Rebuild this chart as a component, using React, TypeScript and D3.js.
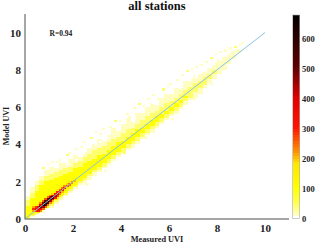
import * as d3 from "d3"
import { useEffect, useRef } from "react"

const width = 320
const height = 245
const serif = "'Liberation Serif', serif"

// left edges of the measured UVI columns, one bin is 0.2 wide
const measuredBins = d3.range(0, 45).map(i => i / 5)

// edges of each density band per column (model UVI)
const paleLow = [0,.1,.2,.3,.5,.6,.8,1,1.2,1.4,1.6,1.8,1.9,2.1,2.3,2.5,2.7,2.9,3.1,3.3,3.5,3.7,3.8,4,4.3,4.5,4.6,4.9,5.1,5.3,5.5,5.6,5.9,6.1,6.4,6.5,6.7,7,7.3,7.5,7.8,8,8.3,8.6,8.9]
const paleHigh = [1.2,1.7,2,2.3,2.6,2.8,2.7,3,3,3.2,3.4,3.3,3.6,3.8,4,4.3,4.2,4.5,4.9,4.7,5.1,5.4,5.2,5.7,5.7,6,6.2,6.1,6.5,6.7,6.7,7,7,7.4,7.5,7.7,7.8,7.9,8.1,8.4,8.6,8.7,8.9,9,9.1]
const midLow = [0,.15,.25,.4,.55,.7,.9,1.1,1.3,1.5,1.7,1.9,2.1,2.3,2.5,2.6,2.8,3,3.2,3.4,3.6,3.8,4,4.2,4.4,4.6,4.8,5,5.2,5.4,5.6,5.8,6,6.3,6.5,6.8,7,7.2,7.5,7.8,0,0,0,0,0]
const midHigh = [1,1.4,1.8,2.1,2.3,2.4,2.5,2.6,2.7,2.8,3,3.1,3.3,3.5,3.7,3.8,3.9,4.1,4.3,4.4,4.6,4.8,4.9,5.1,5.3,5.5,5.7,5.8,6,6.2,6.3,6.5,6.7,6.9,7.1,7.3,7.4,7.6,7.8,8,0,0,0,0,0]
const fullLow = [0,.2,.3,.45,.6,.8,1,1.2,1.4,1.6,1.8,2,2.2,2.4,2.6,2.8,3,3.2,3.4,3.6,3.8,4,4.2,4.4,4.6,4.8,5,5.2,5.4,5.6,5.8,6,6.2,6.5,6.8,7,0,0,0,0,0,0,0,0,0]
const fullHigh = [.7,1.1,1.5,1.8,2,2.1,2.2,2.3,2.4,2.5,2.7,2.8,3,3.1,3.2,3.4,3.5,3.7,3.9,4.1,4.2,4.4,4.6,4.8,4.9,5.1,5.3,5.5,5.6,5.8,6,6.2,6.4,6.6,6.8,7,0,0,0,0,0,0,0,0,0]

// hot ridge, one column per 0.1 of measured UVI, five cells around the centre
const ridgeX = [.3,.4,.5,.6,.7,.8,.9,1,1.1,1.2,1.3,1.4,1.5,1.6,1.7,1.8,1.9,2]
const ridgeY = [.5,.5,.5,.6,.7,.8,.9,1,1.1,1.2,1.3,1.4,1.5,1.6,1.7,1.8,1.9,2]
const ridgeBelow2 = [110,130,180,220,240,250,240,220,200,170,150,130,120,110,100,100,100,100]
const ridgeBelow1 = [210,280,320,380,450,500,500,440,360,300,270,230,200,180,150,130,110,100]
const ridgeCentre = [280,320,400,540,650,680,670,630,540,450,400,360,330,300,270,240,220,200]
const ridgeAbove1 = [210,280,330,390,460,500,490,420,360,320,290,260,240,220,190,160,140,110]
const ridgeAbove2 = [110,130,180,230,250,260,240,220,190,170,150,130,120,110,100,100,100,100]

// stray low-count cells above the envelope
const strayX = [.7,.9,1.1,1.3,1.4,1.7,1.8,2.1,2.3,2.4,2.7,2.9,3.1,3.2,3.5,3.7,3.9,4.2,4.3,4.5,4.7,4.9,5.1,5.3,5.5,5.7,5.9,6,6.3,6.5,6.7,6.9,7.1,7.3,7.5,7.7,7.9,8.1,8.3,8.5,8.7,8.9,9,2.5,3.3,4.1,5,6.1,7,7.7]
const strayY = [2.7,2.9,3,3,3.1,3.4,3.5,3.7,3.8,4.1,4.3,4.6,4.5,4.8,4.9,5.2,5.2,5.6,5.4,5.9,6.1,6,6.4,6.6,6.4,6.9,7.1,7.2,7.4,7.7,7.9,8,8.1,8.2,8.4,8.6,8.8,8.9,9,9.1,9.2,9.3,9.4,1.8,2.5,3.5,4.3,5.3,6.4,7.2]

// holes inside the pale band
const holeX = [1.7,2.1,2.4,2.9,3.1,3.4,3.8,4.1,4.5,4.8,5.3,5.6,6.1,6.4,6.8,7.1,7.4,7.8,8.1,8.4]
const holeY = [2.9,3.1,3.5,3.9,4.1,4.3,4.9,5.2,5.4,5.8,6.2,6.5,7,7,7.4,7.6,7.9,8.3,8.5,8.8]

const colorStops = [0,10,50,100,180,220,300,400,500,680]
const colorValues = ["#ffffff","#fffdc0","#ffff50","#ffff00","#ffe600","#ff9000","#ff1400","#e00000","#600000","#000000"]
const paleCount = 10
const midCount = 40
const fullCount = 100

const xTicks = [0,2,4,6,8,10]
const yTicks = [0,2,4,6,8,10]
const barTicks = [0,100,200,300,400,500,600]

export default function App () {
    const xAxisRef = useRef<SVGGElement>(null)
    const yAxisRef = useRef<SVGGElement>(null)
    const barAxisRef = useRef<SVGGElement>(null)

    const x = d3.scaleLinear([0, 11], [25, 289])
    const y = d3.scaleLinear([0, 11], [218.7, 14])
    const barY = d3.scaleLinear([0, 680], [218.5, 15])
    const color = d3.scaleLinear<string>(colorStops, colorValues)

    useEffect(() => {
        const style = (g: any, size: number) => {
            g.select(".domain").remove()
            g.selectAll("line").remove()
            g.selectAll("text").attr("font-family", serif).attr("font-weight", "bold").attr("font-size", size).attr("fill", "#222")
        }
        d3.select(xAxisRef.current).call(d3.axisBottom(x).tickValues(xTicks).tickSize(0).tickPadding(4) as any).call(style, 11)
        d3.select(yAxisRef.current).call(d3.axisLeft(y).tickValues(yTicks).tickSize(0).tickPadding(4) as any).call(style, 11)
        d3.select(barAxisRef.current).call(d3.axisRight(barY).tickValues(barTicks).tickSize(0).tickPadding(3) as any).call(style, 8.5)
    }, [])

    // draws one band of a column as a single rect
    const band = (lows: number[], highs: number[], count: number) =>
        measuredBins.map((m, i) => highs[i] > lows[i] && (
            <rect key={`${count}-${i}`} x={x(m)} y={y(highs[i])} width={x(m + 0.2) - x(m)} height={y(lows[i]) - y(highs[i])} fill={color(count)} />
        ))

    // one 0.1 x 0.1 cell
    const cell = (m: number, v: number, fill: string, key: string) => (
        <rect key={key} x={x(m)} y={y(v + 0.1)} width={x(0.1) - x(0) + 0.3} height={y(0) - y(0.1) + 0.3} fill={fill} />
    )

    const ridgeRows: [number, number[]][] = [[-0.2, ridgeBelow2], [-0.1, ridgeBelow1], [0.2, ridgeAbove2], [0.1, ridgeAbove1], [0, ridgeCentre]]

    return (
        <svg width={width} height={height} style={{ position: "absolute", left: 0, top: 0 }}>
            <g shapeRendering="crispEdges">
                {band(paleLow, paleHigh, paleCount)}
                {holeX.map((m, i) => cell(m, holeY[i], "#fff", `h${i}`))}
                {strayX.map((m, i) => cell(m, strayY[i], color(i % 5 === 0 ? midCount : paleCount), `s${i}`))}
                {band(midLow, midHigh, midCount)}
                {band(fullLow, fullHigh, fullCount)}
                {ridgeRows.map(([dy, counts], r) => ridgeX.map((m, i) => cell(m, ridgeY[i] + dy, color(counts[i]), `r${r}-${i}`)))}
                {/* colorbar */}
                {d3.range(0, 680, 10).map(v => (
                    <rect key={v} x={293} y={barY(v + 10)} width={6.5} height={barY(0) - barY(10) + 0.5} fill={color(v)} />
                ))}
            </g>
            <rect x={292.5} y={15} width={7} height={203.5} fill="none" stroke="#aaa" strokeWidth={0.6} />

            {/* 1:1 line */}
            <line x1={x(0)} y1={y(0)} x2={x(10)} y2={y(10)} stroke="#86c3e0" strokeWidth={1} />

            <line x1={25} y1={14} x2={25} y2={219.5} stroke="#888" strokeWidth={1.5} />
            <line x1={25} y1={219} x2={289} y2={219} stroke="#888" strokeWidth={1.5} />

            <g ref={xAxisRef} transform="translate(0,220)" />
            <g ref={yAxisRef} transform="translate(25,0)" />
            <g ref={barAxisRef} transform="translate(299,0)" />

            <text x={157} y={10} textAnchor="middle" fontFamily={serif} fontWeight="bold" fontSize={12.5} fill="#111">all stations</text>
            <text x={49.5} y={36} fontFamily={serif} fontWeight="bold" fontSize={7.5} fill="#222">R=0.94</text>
            <text x={157} y={242} textAnchor="middle" fontFamily={serif} fontWeight="bold" fontSize={8.3} fill="#222">Measured UVI</text>
            <text transform="translate(9,126) rotate(-90)" textAnchor="middle" fontFamily={serif} fontWeight="bold" fontSize={8} fill="#222">Model UVI</text>
        </svg>
    )
}
